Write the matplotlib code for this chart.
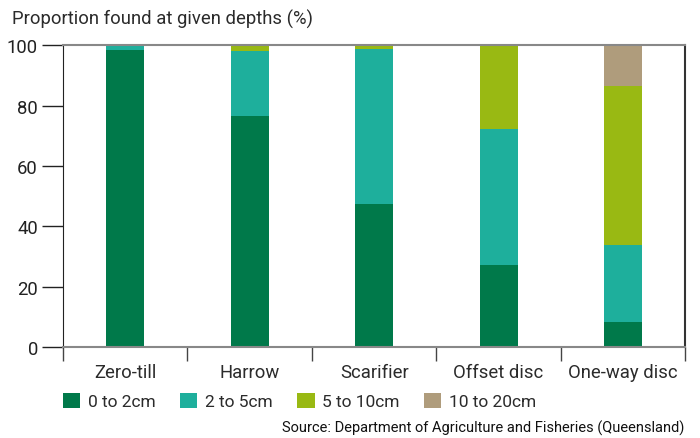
import numpy as np
import matplotlib.pyplot as plt
from matplotlib.patches import Patch

# data (%)
categories = ['Zero-till', 'Harrow', 'Scarifier', 'Offset disc', 'One-way disc']
depths = ['0 to 2cm', '2 to 5cm', '5 to 10cm', '10 to 20cm']
d0_2 = [98.5, 76.5, 47.5, 27.3, 8.4]
d2_5 = [1.5, 21.6, 51.2, 45.0, 25.5]
d5_10 = [0.0, 1.9, 1.3, 27.7, 52.4]
d10_20 = [0.0, 0.0, 0.0, 0.0, 13.7]
colors = ['#00794a', '#1eaf9c', '#99b913', '#af9c7c']

plt.rcParams['font.family'] = ['Roboto', 'DejaVu Sans']
txt = '#2b2b2b'

fig = plt.figure(figsize=(7, 4.39), dpi=100)
ax = fig.add_axes([0.09, 0.207, 0.889, 0.688])

x = np.arange(len(categories))
bottom = np.zeros(len(categories))
for vals, c in zip([d0_2, d2_5, d5_10, d10_20], colors):
    ax.bar(x, vals, width=0.305, bottom=bottom, color=c, zorder=2)
    bottom += np.array(vals)

ax.set_xlim(-0.5, len(categories) - 0.5)
ax.set_ylim(0, 100)
ax.set_yticks([0, 20, 40, 60, 80, 100])
ax.tick_params(axis='y', length=15, width=1, labelsize=13.3, colors='#222222', pad=3)
# category boundaries as ticks
ax.set_xticks(np.arange(len(categories) + 1) - 0.5)
ax.set_xticklabels([])
ax.tick_params(axis='x', length=10, width=1, direction='out', color='#444444')
for xi, name in zip(x, categories):
    ax.text(xi, -5.2, name, ha='center', va='top', fontsize=13.3, color=txt)

for s in ['top', 'bottom']:
    ax.spines[s].set_color('#888888')
    ax.spines[s].set_linewidth(1.5)
ax.spines['left'].set_color('#222222')
ax.spines['right'].set_color('#333333')
ax.spines['right'].set_linewidth(1.5)

fig.text(0.017, 0.955, 'Proportion found at given depths (%)', fontsize=13.3,
         color=txt, ha='left', va='center')

handles = [Patch(facecolor=c, label=l) for c, l in zip(colors, depths)]
fig.legend(handles=handles, loc='center left', bbox_to_anchor=(0.09, 0.084),
           ncol=4, frameon=False, fontsize=12.5, handlelength=1.0, handleheight=1.0,
           handletextpad=0.45, columnspacing=1.4, borderpad=0, borderaxespad=0,
           labelcolor=txt)

fig.text(0.978, 0.025, 'Source: Department of Agriculture and Fisheries (Queensland)',
         fontsize=10.5, color='#111111', ha='right', va='center')

fig.savefig('out.png', dpi=100)
